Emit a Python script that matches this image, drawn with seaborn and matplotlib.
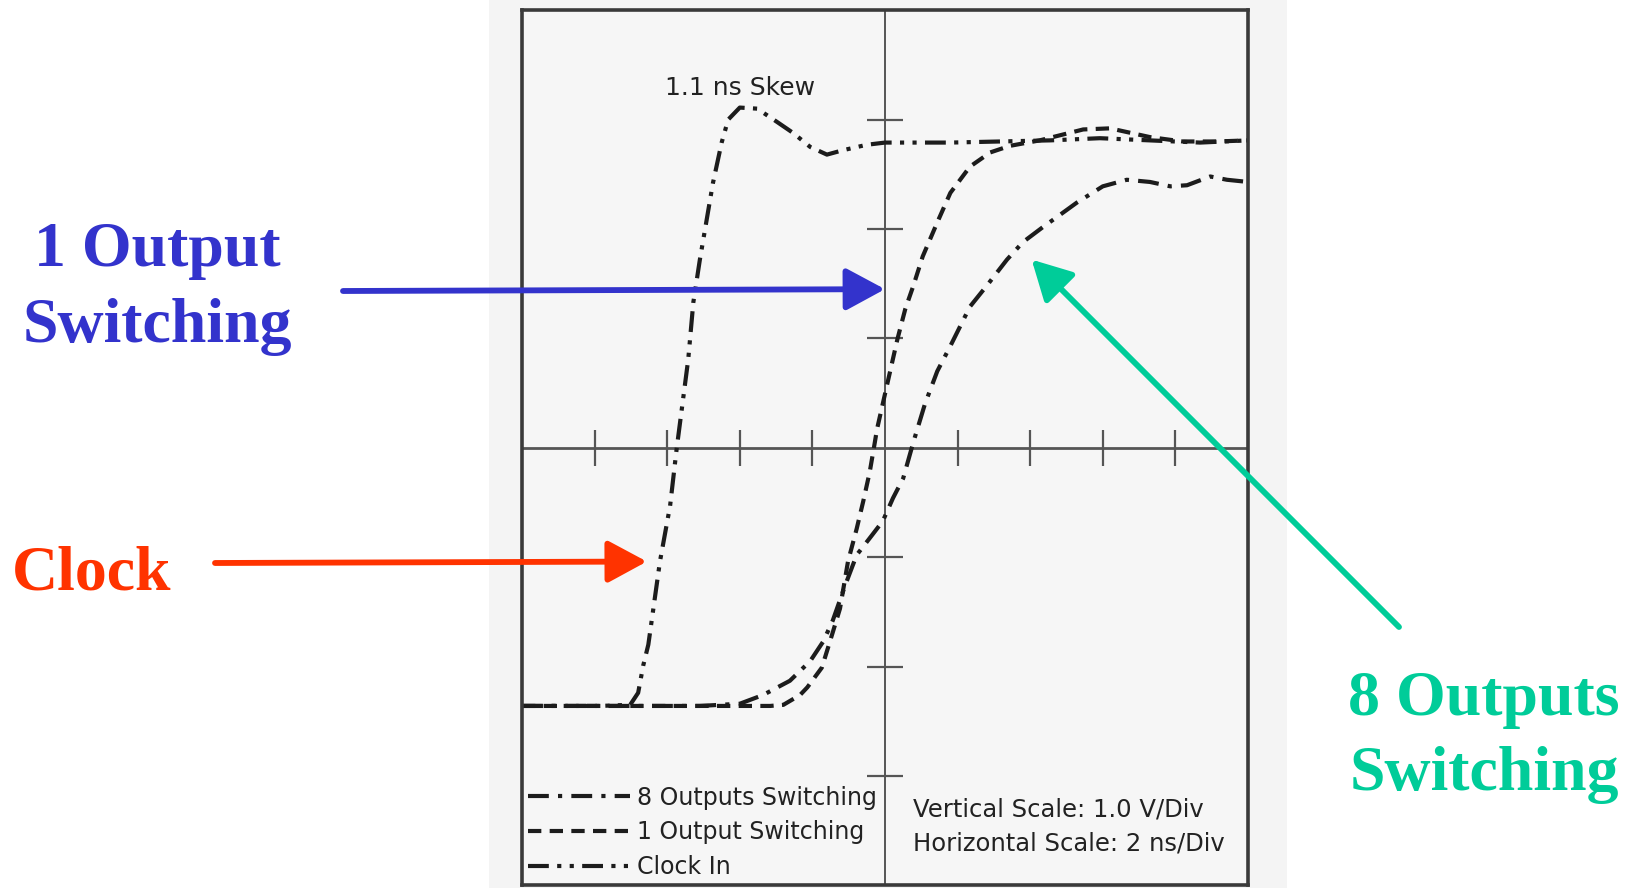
import matplotlib
matplotlib.use("Agg")
import matplotlib.pyplot as plt
import seaborn as sns
from matplotlib.patches import Rectangle

sns.set_style("white")
plt.rcParams['font.family'] = ['DejaVu Sans']

# scope traces, x in divisions (2 ns/div), y in divisions (1.0 V/div)
out8_t = [-5.0, -2.55, -2.0, -1.68, -1.31, -1.03, -0.85, -0.72, -0.55, -0.39, -0.18, -0.03,
          0.11, 0.25, 0.39, 0.55, 0.72, 0.90, 1.17, 1.40, 1.68, 1.90, 2.18, 2.37, 2.64,
          3.00, 3.33, 3.65, 3.93, 4.16, 4.48, 4.71, 5.0]
out8_v = [-2.36, -2.36, -2.34, -2.26, -2.13, -1.95, -1.77, -1.58, -1.26, -0.98, -0.80, -0.67,
          -0.46, -0.28, 0.05, 0.40, 0.70, 0.93, 1.29, 1.48, 1.72, 1.88, 2.02, 2.11, 2.24,
          2.39, 2.45, 2.43, 2.39, 2.40, 2.48, 2.45, 2.43]

out1_t = [-5.0, -2.55, -1.58, -1.40, -1.17, -1.07, -0.87, -0.73, -0.62, -0.51, -0.39, -0.30,
          -0.21, -0.14, -0.11, 0.03, 0.17, 0.28, 0.39, 0.52, 0.72, 0.90, 1.17, 1.45, 1.72,
          2.13, 2.73, 3.10, 3.65, 4.10, 4.57, 5.0]
out1_v = [-2.36, -2.36, -2.36, -2.35, -2.26, -2.19, -2.01, -1.71, -1.47, -1.04, -0.74, -0.49,
          -0.22, 0.05, 0.17, 0.58, 0.99, 1.27, 1.48, 1.75, 2.06, 2.33, 2.57, 2.70, 2.76,
          2.81, 2.91, 2.92, 2.84, 2.80, 2.80, 2.81]

clock_t = [-5.0, -3.93, -3.51, -3.40, -3.33, -3.26, -3.10, -2.96, -2.87, -2.71, -2.64, -2.55,
           -2.37, -2.25, -2.16, -2.00, -1.76, -1.49, -1.27, -1.03, -0.80, -0.58, -0.25, 0.0,
           0.90, 1.58, 2.27, 2.96, 3.65, 4.34, 5.0]
clock_v = [-2.36, -2.36, -2.35, -2.24, -1.99, -1.80, -1.04, -0.53, -0.01, 0.81, 1.33, 1.72,
           2.42, 2.79, 3.00, 3.11, 3.10, 2.98, 2.88, 2.75, 2.68, 2.72, 2.77, 2.79,
           2.79, 2.80, 2.81, 2.83, 2.81, 2.79, 2.81]

x_ticks = [-4, -3, -2, -1, 1, 2, 3, 4]
y_ticks = [-3, -2, -1, 1, 2, 3]

W, H = 1631, 888


def fx(px):
    return px / W


def fy(py):
    return 1 - py / H


fig = plt.figure(figsize=(W / 100, H / 100), dpi=100)
fig.patch.set_facecolor('white')
# scanned paper strip behind the scope picture
fig.patches.append(Rectangle((fx(489), 0), fx(1287) - fx(489), 1, transform=fig.transFigure,
                             facecolor='#f4f4f4', edgecolor='none', zorder=-5))

ax = fig.add_axes([fx(522), 0.003, fx(1248) - fx(522), 0.9855])
ax.set_facecolor('#f6f6f6')
ax.set_xlim(-5, 5)
ax.set_ylim(-4, 4)
ax.set_xticks([])
ax.set_yticks([])
for s in ax.spines.values():
    s.set_linewidth(2.6)
    s.set_color('#3a3a3a')

# graticule centre lines with tick marks
ax.axhline(0, color='#555555', lw=2.0, zorder=1)
ax.axvline(0, color='#555555', lw=1.4, zorder=1)
ax.vlines(x_ticks, -0.165, 0.165, color='#555555', lw=1.6, zorder=1)
ax.hlines(y_ticks, -0.25, 0.25, color='#555555', lw=1.6, zorder=1)

ink = '#1c1c1c'
sns.lineplot(x=out8_t, y=out8_v, ax=ax, color=ink, lw=3, label='8 Outputs Switching',
             linestyle=(0, (5, 2.2, 1, 2.2)), estimator=None, sort=False, legend=False)
sns.lineplot(x=out1_t, y=out1_v, ax=ax, color=ink, lw=3, label='1 Output Switching',
             linestyle=(0, (3.2, 2)), estimator=None, sort=False, legend=False)
sns.lineplot(x=clock_t, y=clock_v, ax=ax, color=ink, lw=3, label='Clock In',
             linestyle=(0, (5, 2, 1, 2, 1, 2)), estimator=None, sort=False, legend=False)

ax.legend(loc='lower left', bbox_to_anchor=(fx(528), fy(879)), bbox_transform=fig.transFigure,
          frameon=False, borderpad=0, borderaxespad=0, handlelength=4.3, handletextpad=0.3,
          labelspacing=0.45, fontsize=17, labelcolor='#222222')

fig.text(fx(665), fy(95), '1.1 ns Skew', fontsize=18, color='#222222', va='baseline')
fig.text(fx(913), fy(816), 'Vertical Scale: 1.0 V/Div', fontsize=17.5, color='#222222',
         va='baseline')
fig.text(fx(913), fy(850), 'Horizontal Scale: 2 ns/Div', fontsize=17.5, color='#222222',
         va='baseline')

# coloured call-outs
serif = dict(family=['Liberation Serif', 'DejaVu Serif'], weight='bold', fontsize=46)
blue, red, green = '#3333cc', '#ff3300', '#00cc99'

fig.text(fx(157), fy(266), '1 Output', color=blue, ha='center', va='baseline', **serif)
fig.text(fx(157), fy(342), 'Switching', color=blue, ha='center', va='baseline', **serif)
fig.text(fx(12), fy(590), 'Clock', color=red, ha='left', va='baseline', **serif)
fig.text(fx(1484), fy(715), '8 Outputs', color=green, ha='center', va='baseline', **serif)
fig.text(fx(1484), fy(790), 'Switching', color=green, ha='center', va='baseline', **serif)

arrow_style = '-|>,head_length=0.5,head_width=0.27'
for tip, tail, col in [((0.0, 1.45), (343, 291), blue),
                       ((-3.28, -1.04), (215, 563), red),
                       ((2.02, 1.72), (1399, 627), green)]:
    ax.annotate('', xy=tip, xycoords='data', xytext=(fx(tail[0]), fy(tail[1])),
                textcoords='figure fraction',
                arrowprops=dict(arrowstyle=arrow_style, color=col, lw=4.2,
                                mutation_scale=48, shrinkA=0, shrinkB=0),
                annotation_clip=False, zorder=10)

fig.savefig('out.png', dpi=100, facecolor=fig.get_facecolor())
